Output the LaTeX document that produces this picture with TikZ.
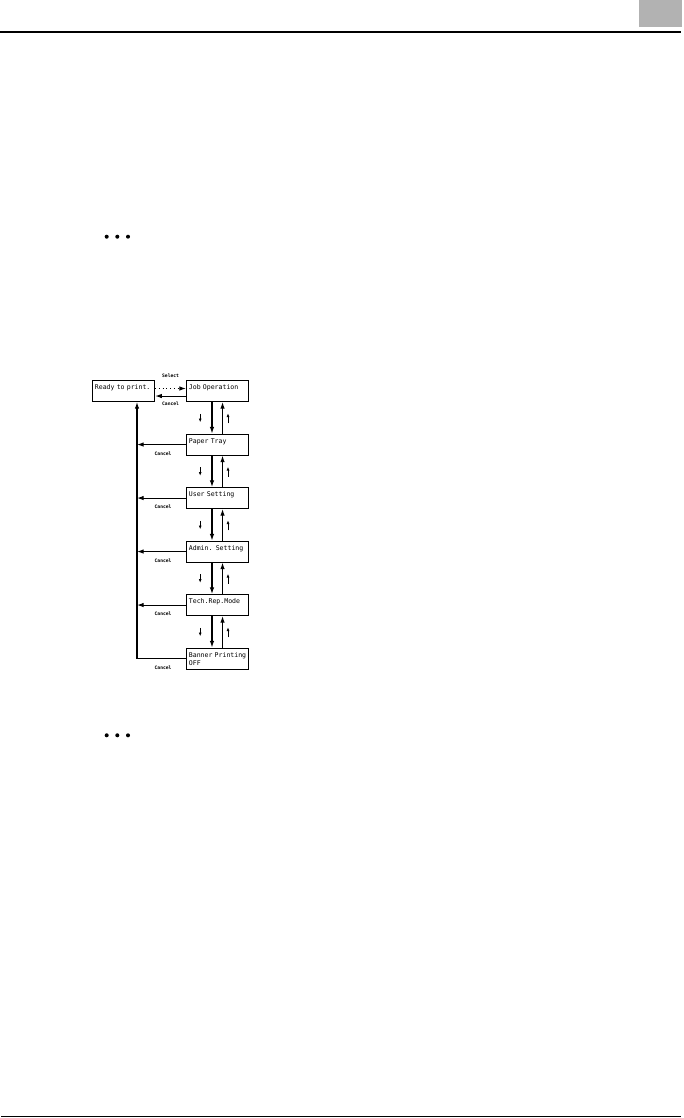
\documentclass[tikz,border=0pt]{standalone}
\usepackage{fontspec}
\newfontfamily\lcdfont{DejaVu Sans Mono}
\usetikzlibrary{positioning,arrows.meta,calc}

\begin{document}
\begin{tikzpicture}[
    x=0.75pt, y=-0.75pt,
    menu/.style={draw, line width=0.8pt, rectangle, anchor=north west, inner xsep=1.8pt, inner ysep=0pt,
      text width=43pt, text height=6.8pt, text depth=8.95pt, align=left,
      font=\lcdfont\fontsize{4.9}{6.2}\selectfont},
    lbl/.style={font=\lcdfont\bfseries\fontsize{3.5}{4}\selectfont, inner sep=0.5pt},
    link/.style={line width=0.8pt},
    hint/.style={line width=0.6pt, -{Latex[length=2.8pt, width=2.2pt]}},
    >={Latex[length=5pt, width=3.4pt]}
  ]
    \useasboundingbox (0,0) rectangle (683,1118);

    % page decoration
    \fill[black!30] (639,0) rectangle (682,27);
    \draw[line width=1.1pt] (0,32) -- (681,32);
    \draw[line width=1.1pt] (1,1116.5) -- (681,1116.5);
    \foreach \dx in {106.7,117.3,128} {
      \fill (\dx,236.7) circle (2);
      \fill (\dx,735.3) circle (2);
    }

    % menu boxes
    \node[menu] (ready) at (92,380) {Ready to print.};
    \node[menu] (job) at (186,380) {Job Operation};
    \node[menu] (paper) at (186,433.5) {Paper Tray};
    \node[menu] (user) at (186,487) {User Setting};
    \node[menu] (admin) at (186,540.5) {Admin. Setting};
    \node[menu] (tech) at (186,594) {Tech.Rep.Mode};
    \node[menu] (banner) at (186,647.5) {Banner Printing\\OFF};
    \coordinate (rail) at (137,658);

    \draw[link, ->, dotted] ([yshift=1.9pt]ready.east) -- ([yshift=1.9pt]job.west)
      node[lbl, midway, above=7.5pt] {Select};
    \draw[link, ->] ([yshift=-3.75pt]job.west) -- ([yshift=-3.75pt]ready.east)
      node[lbl, midway, below=3.5pt] {Cancel};

    \foreach \a/\b in {job/paper, paper/user, user/admin, admin/tech, tech/banner} {
      \draw[link, ->] ([xshift=19.5pt]\a.south west) -- ([xshift=19.5pt]\b.north west);
      \draw[link, ->] ([xshift=27.4pt]\b.north west) -- ([xshift=27.4pt]\a.south west);
      \draw[hint] ($(\a.south west)!0.5!(\b.north west)+(14.2,-4)$) -- +(0,8.5);
      \draw[hint] ($(\a.south west)!0.5!(\b.north west)+(42,5.5)$) -- +(0,-10);
    }

    \foreach \m in {paper, user, admin, tech} {
      \draw[link, ->] (\m.west) -- (\m.west -| rail)
        node[lbl, midway, below=4.5pt, xshift=1.2pt] {Cancel};
    }
    \draw[link, ->] (banner.west) -| (ready.south -| rail)
      node[lbl, pos=0.25, below=4.5pt, xshift=1.2pt] {Cancel};
  \end{tikzpicture}
\end{document}
